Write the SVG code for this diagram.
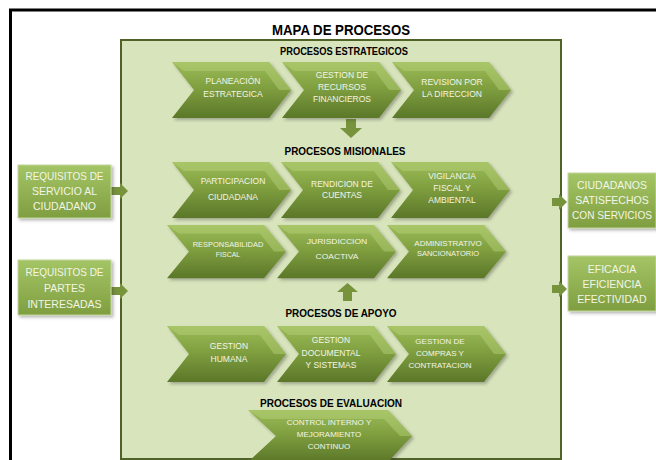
<svg xmlns="http://www.w3.org/2000/svg" width="656" height="460" viewBox="0 0 656 460">
<defs>
<linearGradient id="chev" x1="0" y1="0" x2="0" y2="1">
<stop offset="0" stop-color="#9cbc5a"/>
<stop offset="0.45" stop-color="#80a040"/>
<stop offset="1" stop-color="#5b7729"/>
</linearGradient>
<linearGradient id="boxg" x1="0" y1="0" x2="0" y2="1">
<stop offset="0" stop-color="#a4c566"/>
<stop offset="1" stop-color="#7f9e40"/>
</linearGradient>
<filter id="sh" x="-10%" y="-10%" width="130%" height="140%">
<feDropShadow dx="2" dy="2" stdDeviation="1.5" flood-color="#333" flood-opacity="0.35"/>
</filter>
<polygon id="chv" points="0,0 97,0 119,28 97,56 0,56 22,28"/>
<polygon id="bev" points="0,0 97,0 119,28 107,28 93,9 12,9"/>
</defs>
<style>
.frame{fill:none;stroke:#000;stroke-width:3}
.main{fill:#d8e4bc;stroke:#4f6228;stroke-width:2}
.ch{fill:url(#chev);filter:url(#sh)}
.bv{fill:#b7d27a;opacity:0.45}
.ct{font-family:"Liberation Sans",sans-serif;font-size:8.5px;fill:#f3f5e6;text-anchor:middle}
.hd{font-family:"Liberation Sans",sans-serif;font-weight:bold;fill:#000;text-anchor:middle}
.bx{fill:url(#boxg);stroke:#c3d69b;stroke-width:1;filter:url(#sh)}
.bt{font-family:"Liberation Sans",sans-serif;font-size:10.5px;fill:#f3f5e6;text-anchor:middle}
.ar{fill:#77933c}
</style>
<rect width="656" height="460" fill="#fff"/>
<rect class="frame" x="10.5" y="10" width="660" height="470"/>
<text class="hd" x="341" y="35" font-size="15" textLength="138" lengthAdjust="spacingAndGlyphs">MAPA DE PROCESOS</text>
<rect class="main" x="121" y="40" width="440" height="419"/>
<text class="hd" x="344" y="55" font-size="10" textLength="128" lengthAdjust="spacingAndGlyphs">PROCESOS ESTRATEGICOS</text>
<text class="hd" x="345" y="155" font-size="10" textLength="121" lengthAdjust="spacingAndGlyphs">PROCESOS MISIONALES</text>
<text class="hd" x="341" y="317" font-size="10" textLength="111" lengthAdjust="spacingAndGlyphs">PROCESOS DE APOYO</text>
<text class="hd" x="331" y="407" font-size="11.5" textLength="142" lengthAdjust="spacingAndGlyphs">PROCESOS DE EVALUACION</text>

<g id="connectors">
<polygon class="ar" points="346,119 356,119 356,128 362,128 351,138 340,128 346,128"/>
<polygon class="ar" points="343,301 352,301 352,292 358,292 347.5,283 337,292 343,292"/>
<polygon class="ar" points="111,187 120,187 120,183 128,191 120,199 120,195 111,195"/>
<polygon class="ar" points="111,287 120,287 120,283 128,291 120,299 120,295 111,295"/>
<polygon class="ar" points="552,198 559,198 559,194 567,202 559,210 559,206 552,206"/>
<polygon class="ar" points="552,285 559,285 559,281 567,289 559,297 559,293 552,293"/>
</g>

<g id="req-servicio"><rect class="bx" x="18" y="165" width="93" height="53"/>
<text class="bt" x="64.5" y="180" textLength="78" lengthAdjust="spacingAndGlyphs">REQUISITOS DE</text><text class="bt" x="64.5" y="195">SERVICIO AL</text><text class="bt" x="64.5" y="210">CIUDADANO</text></g>
<g id="req-partes"><rect class="bx" x="18" y="260" width="93" height="55"/>
<text class="bt" x="64.5" y="276" textLength="78" lengthAdjust="spacingAndGlyphs">REQUISITOS DE</text><text class="bt" x="64.5" y="292">PARTES</text><text class="bt" x="64.5" y="308">INTERESADAS</text></g>
<g id="ciudadanos"><rect class="bx" x="568" y="173" width="88" height="55"/>
<text class="bt" x="612" y="189">CIUDADANOS</text><text class="bt" x="612" y="204">SATISFECHOS</text><text class="bt" x="612" y="219" textLength="80" lengthAdjust="spacingAndGlyphs">CON SERVICIOS</text></g>
<g id="eficacia"><rect class="bx" x="568" y="256" width="88" height="55"/>
<text class="bt" x="612" y="273">EFICACIA</text><text class="bt" x="612" y="288">EFICIENCIA</text><text class="bt" x="612" y="303">EFECTIVIDAD</text></g>

<g id="planeacion" transform="translate(172,62)"><use href="#chv" class="ch"/><use href="#bev" class="bv"/>
<text class="ct" x="61" y="22">PLANEACIÓN</text><text class="ct" x="61" y="35">ESTRATEGICA</text></g>
<g id="recursos" transform="translate(282,62)"><use href="#chv" class="ch"/><use href="#bev" class="bv"/>
<text class="ct" x="60" y="16">GESTION DE</text><text class="ct" x="60" y="28">RECURSOS</text><text class="ct" x="60" y="40">FINANCIEROS</text></g>
<g id="revision" transform="translate(392,62)"><use href="#chv" class="ch"/><use href="#bev" class="bv"/>
<text class="ct" x="60" y="23">REVISION POR</text><text class="ct" x="60" y="35">LA DIRECCION</text></g>

<g id="participacion" transform="translate(172,162)"><use href="#chv" class="ch"/><use href="#bev" class="bv"/>
<text class="ct" x="61" y="22">PARTICIPACION</text><text class="ct" x="61" y="38">CIUDADANA</text></g>
<g id="rendicion" transform="translate(281,162)"><use href="#chv" class="ch"/><use href="#bev" class="bv"/>
<text class="ct" x="61" y="25">RENDICION DE</text><text class="ct" x="61" y="36">CUENTAS</text></g>
<g id="vigilancia" transform="translate(391,162)"><use href="#chv" class="ch"/><use href="#bev" class="bv"/>
<text class="ct" x="61" y="17">VIGILANCIA</text><text class="ct" x="61" y="29">FISCAL Y</text><text class="ct" x="61" y="41">AMBIENTAL</text></g>

<g id="responsabilidad" transform="translate(167,225) scale(1,0.95)"><use href="#chv" class="ch"/><use href="#bev" class="bv"/>
<text class="ct" x="61" y="23" style="font-size:7.5px">RESPONSABILIDAD</text><text class="ct" x="61" y="34" style="font-size:7px">FISCAL</text></g>
<g id="jurisdiccion" transform="translate(277,225) scale(1,0.95)"><use href="#chv" class="ch"/><use href="#bev" class="bv"/>
<text class="ct" x="60" y="20">JURISDICCION</text><text class="ct" x="60" y="36">COACTIVA</text></g>
<g id="administrativo" transform="translate(387,225) scale(1,0.95)"><use href="#chv" class="ch"/><use href="#bev" class="bv"/>
<text class="ct" x="61" y="22" style="font-size:8px">ADMINISTRATIVO</text><text class="ct" x="61" y="33" style="font-size:7.5px">SANCIONATORIO</text></g>

<g id="humana" transform="translate(167,326)"><use href="#chv" class="ch"/><use href="#bev" class="bv"/>
<text class="ct" x="62" y="23">GESTION</text><text class="ct" x="62" y="36">HUMANA</text></g>
<g id="documental" transform="translate(277,326)"><use href="#chv" class="ch"/><use href="#bev" class="bv"/>
<text class="ct" x="54" y="17">GESTION</text><text class="ct" x="54" y="30">DOCUMENTAL</text><text class="ct" x="54" y="42">Y SISTEMAS</text></g>
<g id="compras" transform="translate(387,326)"><use href="#chv" class="ch"/><use href="#bev" class="bv"/>
<text class="ct" x="53" y="18" style="font-size:8px">GESTION DE</text><text class="ct" x="53" y="30" style="font-size:8px">COMPRAS Y</text><text class="ct" x="53" y="42" style="font-size:8px">CONTRATACION</text></g>

<g id="control" transform="translate(248,410)">
<polygon class="ch" points="0,0 140,0 164,26 140,52 0,52 28,26"/>
<polygon class="bv" points="0,0 140,0 164,26 152,26 136,9 14,9"/>
<text class="ct" x="81" y="15" style="font-size:8px">CONTROL INTERNO Y</text><text class="ct" x="81" y="27" style="font-size:8px">MEJORAMIENTO</text><text class="ct" x="81" y="39" style="font-size:8px">CONTINUO</text></g>
</svg>
